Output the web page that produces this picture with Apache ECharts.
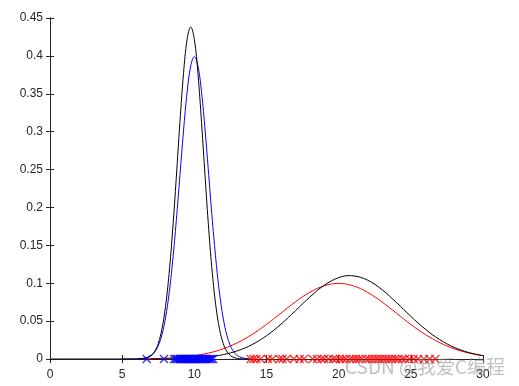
<!DOCTYPE html>
<html><head><meta charset="utf-8">
<script src="https://cdn.jsdelivr.net/npm/echarts@6/dist/echarts.min.js"></script>
<style>html,body{margin:0;padding:0;background:#fff}#c{width:519px;height:386px}</style>
</head><body><div id="c"></div>
<script>
// Blue true pdf (left cluster)
const blueCurveX = [5,6,6.5,7,7.25,7.5,7.75,8,8.25,8.5,8.75,9,9.25,9.5,9.75,10,10.25,10.5,10.75,11,11.25,11.5,11.75,12,12.25,12.5,12.75,13,13.5,14];
const blueCurveY = [0,0.0001,0.0009,0.0044,0.0091,0.0175,0.0317,0.054,0.0863,0.1295,0.1826,0.242,0.3011,0.3521,0.3867,0.399,0.3867,0.3521,0.3011,0.242,0.1826,0.1295,0.0863,0.054,0.0317,0.0175,0.0091,0.0044,0.0009,0.0001];
// Black fitted pdf (left cluster)
const blackLeftX = [0,5.75,6.25,6.75,7,7.25,7.5,7.75,8,8.25,8.5,8.75,9,9.25,9.5,9.75,10,10.25,10.5,10.75,11,11.25,11.5,11.75,12,12.25,12.5,12.75,13.25,13.75];
const blackLeftY = [0,0,0.0003,0.0019,0.0046,0.0101,0.0206,0.0391,0.0689,0.1126,0.1705,0.2394,0.3119,0.3766,0.4218,0.438,0.4218,0.3766,0.3119,0.2394,0.1705,0.1126,0.0689,0.0391,0.0206,0.0101,0.0046,0.0019,0.0003,0];
// Red true pdf (right cluster)
const redCurveX = [6,7,8,9,10,11,12,13,14,15,16,17,18,19,20,21,22,23,24,25,26,27,28,29,30];
const redCurveY = [0.0002,0.0005,0.0011,0.0023,0.0044,0.0079,0.0135,0.0216,0.0324,0.0456,0.0605,0.0753,0.088,0.0966,0.0997,0.0966,0.088,0.0753,0.0605,0.0456,0.0324,0.0216,0.0135,0.0079,0.0044];
// Black fitted pdf (right cluster)
const blackRightX = [7,8,9,10,11,12,13,14,15,16,17,18,19,20,20.8,21,22,23,24,25,26,27,28,29,30];
const blackRightY = [0,0.0002,0.0006,0.0013,0.0029,0.0058,0.0109,0.019,0.0307,0.0459,0.0636,0.0817,0.0973,0.1074,0.110,0.1098,0.1041,0.0916,0.0746,0.0563,0.0394,0.0256,0.0154,0.0086,0.0044];
// Samples
const blueSamples = [6.7,7.9,8.6,8.7,8.8,8.9,9.0,9.05,9.1,9.2,9.25,9.3,9.4,9.45,9.5,9.6,9.65,9.7,9.8,9.85,9.9,10.0,10.05,10.1,10.2,10.25,10.3,10.4,10.5,10.55,10.6,10.7,10.8,10.9,11.0,11.1,11.2,11.3];
const redSamples = [13.9,14.1,14.3,14.6,15.1,15.4,15.9,16.1,16.4,16.9,17.3,17.6,18.2,18.5,18.8,19.0,19.3,19.6,19.8,20.1,20.3,20.5,20.8,21.0,21.2,21.4,21.6,21.9,22.1,22.3,22.5,22.7,22.9,23.1,23.3,23.5,23.7,23.9,24.1,24.4,24.6,24.9,25.2,25.5,25.9,26.3,26.7];
const xTicks = [0,5,10,15,20,25,30];
const yTicks = [0,0.05,0.1,0.15,0.2,0.25,0.3,0.35,0.4,0.45];

const zip = (a,b)=>a.map((v,i)=>[v,b[i]]);
const cross = 'path://M0,0L10,10M10,0L0,10';
const font = 'Liberation Sans';
const axCommon = {
  min: 0, axisLine:{show:true,lineStyle:{color:'#262626',width:1}},
  axisTick:{show:true,inside:true,length:4,lineStyle:{color:'#262626'}},
  splitLine:{show:false}
};
const chart = echarts.init(document.getElementById('c'));
chart.setOption({
  animation:false,
  grid:{left:50,right:36,top:18,bottom:27,containLabel:false},
  xAxis:[
    Object.assign({type:'value',max:30,interval:5,position:'bottom',
      axisLabel:{color:'#262626',fontFamily:font,fontSize:12,margin:10}},axCommon),
    Object.assign({type:'value',max:30,interval:5,position:'top',axisLabel:{show:false}},axCommon)
  ],
  yAxis:[
    Object.assign({type:'value',max:0.45,interval:0.05,position:'left',
      axisLabel:{color:'#262626',fontFamily:font,fontSize:12,margin:7,
        formatter:v=>{const t=yTicks.find(k=>Math.abs(k-v)<1e-9);return String(t===undefined?v:t);}}},axCommon),
    Object.assign({type:'value',max:0.45,interval:0.05,position:'right',axisLabel:{show:false}},axCommon)
  ],
  series:[
    {type:'line',data:zip(redCurveX,redCurveY),smooth:0.4,symbol:'none',lineStyle:{color:'#ff0000',width:1},z:3},
    {type:'line',data:zip(blackRightX,blackRightY),smooth:0.4,symbol:'none',lineStyle:{color:'#000',width:1},z:4},
    {type:'line',data:zip(blueCurveX,blueCurveY),smooth:0.4,symbol:'none',lineStyle:{color:'#0000ff',width:1},z:3},
    {type:'line',data:zip(blackLeftX,blackLeftY),smooth:0.4,symbol:'none',lineStyle:{color:'#000',width:1},z:4},
    {type:'scatter',data:blueSamples.map(v=>[v,0]),symbol:cross,symbolSize:8,
      itemStyle:{color:'rgba(0,0,0,0)',borderColor:'#0000ff',borderWidth:1.3},z:5},
    {type:'scatter',data:redSamples.map(v=>[v,0]),symbol:cross,symbolSize:8,
      itemStyle:{color:'rgba(0,0,0,0)',borderColor:'#ff0000',borderWidth:1.3},z:5}
  ],
  graphic:[{type:'text',left:345,top:357,z:100,
    style:{text:'CSDN @我爱C编程',fontSize:19,fontFamily:'Noto Sans CJK SC',fill:'rgba(140,140,140,0.55)'}}]
});
</script></body></html>
